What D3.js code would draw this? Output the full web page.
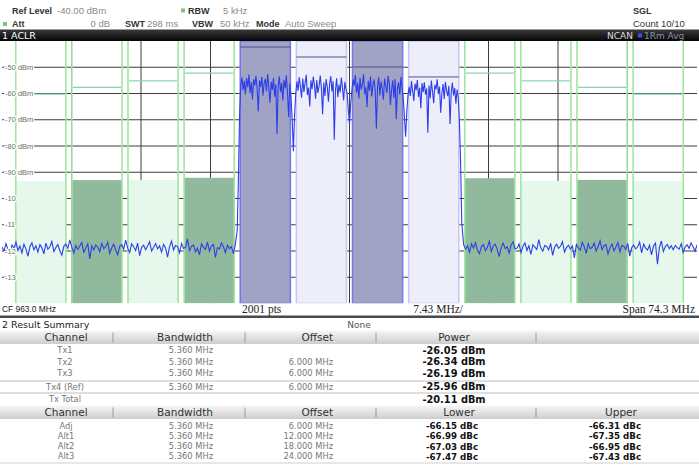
<!DOCTYPE html>
<html>
<head>
<meta charset="utf-8">
<script src="https://cdn.jsdelivr.net/npm/d3@7"></script>
<style>
  body { margin: 0; background: #fff; }
  svg { display: block; }
</style>
</head>
<body>
<script>
// instrument settings
const centerMHz = 963.0;
const spanMHz = 74.3;
const refLevel = -40;
const bottomLevel = -140;
const chBandwidth = 5.36;
const sweepPoints = 2001;

// transmit channels
const txNames = ["Tx1", "Tx2", "Tx3", "Tx4 (Ref)"];
const txOffsets = [-9, -3, 3, 9];
const txPower = [-26.05, -26.34, -26.19, -25.96];
const txMarks = [-42.3, -46.1, -49.9, -53.7];
const txTableOffsets = ["", "6.000 MHz", "6.000 MHz", "6.000 MHz"];
const txTotal = -20.11;

// adjacent / alternate channels
const adjNames = ["Adj", "Alt1", "Alt2", "Alt3"];
const adjSpacing = [6, 12, 18, 24];
const adjTableOffsets = ["6.000 MHz", "12.000 MHz", "18.000 MHz", "24.000 MHz"];
const lowerDbc = [-66.15, -66.99, -67.03, -67.47];
const upperDbc = [-66.31, -67.35, -66.95, -67.43];
const adjLimits = [-52.2, -55.2, -57.7, -60.2];

// level axis
const levelTicks = [-50, -60, -70, -80, -90, -100, -110, -120, -130];
const levelLabels = ["-50 dBm", "-60 dBm", "-70 dBm", "-80 dBm", "-90 dBm", "-10", "-11", "-12", "-13"];

// trace (dBm): lower noise floor, transmit block, upper noise floor
const traceLow = [
  -118.5,-120.1,-117.2,-119.4,-121.3,-117.8,-118.9,-116.6,-119.8,-118.1,
  -120.7,-117.4,-119.2,-122.0,-118.3,-116.9,-119.5,-118.0,-120.4,-117.6,
  -118.8,-121.1,-117.0,-119.3,-118.4,-116.4,-120.2,-118.7,-117.5,-119.9,
  -121.6,-118.2,-117.3,-119.0,-115.8,-118.6,-120.8,-117.9,-119.4,-118.1,
  -116.8,-120.5,-118.9,-117.2,-123.0,-118.0,-119.6,-117.7,-118.5,-120.3,
  -117.1,-119.1,-118.3,-116.7,-120.9,-118.8,-117.4,-119.7,-121.4,-118.2,
  -117.6,-119.3,-115.9,-118.9,-120.6,-117.3,-118.4,-119.8,-117.0,-121.8,
  -118.6,-117.8,-119.5,-118.1,-116.5,-120.0,-118.7,-117.2,-119.2,-118.0,
  -120.4,-117.5,-118.8,-122.3,-118.4,-116.2,-119.6,-117.9,-118.3,-120.7,
  -117.1,-119.0,-118.6,-115.4,-119.9,-118.2,-117.7,-120.3,-118.9,-121.5,
  -117.3,-118.5,-119.4,-116.6,-120.1,-118.0,-117.5,-122.4,-118.7,-119.2,
  -116.9,-118.4,-120.6,-117.8,-119.1,-118.3,-121.0,-117.4
];
const traceTx = [
  -112.0,-92.0,-68.0,
  -56.8,-53.9,-58.7,-55.2,-60.4,-54.1,-57.6,-52.8,-59.9,-55.7,
  -62.3,-54.6,-56.9,-53.3,-58.2,-66.8,-55.1,-57.4,-53.7,-60.8,
  -56.0,-54.4,-59.1,-52.6,-57.9,-63.5,-55.5,-58.6,-54.0,-61.2,
  -56.5,-75.4,-57.2,-53.5,-59.5,-55.9,-62.7,-54.8,-58.0,-53.1,
  -60.1,-68.9,-56.2,
  -61.5,-70.2,-82.0,-68.5,-60.3,
  -55.4,-58.9,-53.8,-57.3,-61.6,-54.3,-59.4,-56.1,-52.9,-60.6,
  -57.7,-64.9,-55.0,-58.4,-53.6,-56.7,-62.0,-54.9,-59.8,-57.0,
  -53.2,-58.1,-67.9,-55.8,-60.9,-54.5,-57.5,-63.1,-56.3,-53.4,
  -59.2,-55.3,-77.6,-58.8,-54.2,-61.4,-56.6,-59.6,-53.9,-57.8,
  -62.6,-55.6,-58.3,
  -60.0,-66.5,-71.8,-64.0,-59.1,
  -54.7,-57.1,-53.0,-59.7,-55.9,-61.9,-54.0,-58.5,-56.4,-52.7,
  -60.3,-57.6,-65.2,-55.2,-58.9,-53.5,-61.1,-56.8,-54.6,-59.0,
  -73.4,-57.3,-53.8,-60.7,-55.5,-58.2,-62.4,-54.3,-57.0,-59.8,
  -53.3,-56.1,-64.4,-58.6,-55.0,-61.7,-54.5,-69.8,-57.9,-55.7,
  -60.5,-53.6,-58.0,
  -61.9,-69.4,-76.5,-67.1,-60.8,
  -57.5,-60.9,-55.3,-59.1,-62.8,-56.2,-58.7,-54.9,-61.3,-57.8,
  -65.6,-56.0,-59.5,-55.7,-60.4,-58.1,-74.9,-57.0,-61.8,-55.1,
  -59.3,-63.7,-56.7,-58.4,-54.6,-60.2,-57.4,-67.3,-59.9,-56.4,
  -62.1,-55.6,-58.8,-61.0,-57.1,-71.6,-59.6,-55.8,-60.7,-57.9,
  -63.9,-58.5,-61.5,
  -70.5,-86.0,-109.0
];
const traceHigh = [
  -117.6,-119.3,-118.0,-120.5,-117.2,-118.9,-116.8,-119.7,-121.0,-118.3,
  -117.5,-119.9,-118.6,-116.3,-120.2,-118.1,-117.4,-119.5,-122.1,-118.7,
  -117.0,-119.1,-118.4,-120.8,-117.7,-116.5,-119.2,-118.9,-117.3,-120.6,
  -118.2,-116.9,-119.8,-118.0,-121.3,-117.6,-118.5,-119.4,-115.7,-118.8,
  -120.1,-117.9,-118.3,-119.6,-117.1,-121.7,-118.6,-117.4,-119.0,-118.2,
  -116.4,-120.4,-118.7,-117.8,-119.3,-118.1,-122.6,-117.5,-118.9,-119.7,
  -116.7,-118.4,-120.9,-117.2,-119.1,-118.6,-117.0,-120.0,-118.3,-116.1,
  -119.5,-118.0,-117.6,-121.2,-118.8,-117.3,-119.9,-118.5,-116.8,-120.3,
  -117.9,-118.2,-119.4,-117.1,-122.0,-118.7,-117.7,-119.2,-118.4,-116.6,
  -120.7,-117.4,-118.9,-119.6,-117.8,-121.5,-118.1,-117.0,-125.0,-118.6,
  -116.2,-120.2,-118.3,-117.5,-119.1,-118.0,-119.5,-117.9,-118.7,-119.3,
  -117.2,-120.6,-118.5,-117.6,-119.0,-116.9,-118.4,-120.1,-117.7
];
// frequency ranges (MHz from centre) covered by each trace segment
const traceSegments = [
  { from: -37.15, to: -12.2, values: traceLow },
  { from: -12.0, to: 12.0, values: traceTx },
  { from: 12.2, to: 37.15, values: traceHigh }
];

const W = 699, H = 469;
const plot = { left: 2, right: 697, top: 41, bottom: 303.5 };
const sans = '"DejaVu Sans", Verdana, sans-serif';
const arial = '"Liberation Sans", Arial, sans-serif';

const x = d3.scaleLinear().domain([-spanMHz / 2, spanMHz / 2]).range([plot.left, plot.right]);
const y = d3.scaleLinear().domain([bottomLevel, refLevel]).range([plot.bottom, plot.top]);
const chWidth = x(chBandwidth) - x(0);

const svg = d3.select("body").append("svg")
  .attr("width", W).attr("height", H)
  .style("font-family", sans);

const defs = svg.append("defs");
defs.append("clipPath").attr("id", "plotClip").append("rect")
  .attr("x", plot.left).attr("y", plot.top)
  .attr("width", plot.right - plot.left).attr("height", plot.bottom - plot.top);
const hdrGrad = defs.append("linearGradient").attr("id", "hdrGrad").attr("x1", 0).attr("x2", 0).attr("y1", 0).attr("y2", 1);
hdrGrad.append("stop").attr("offset", "0%").attr("stop-color", "#f7f7f7");
hdrGrad.append("stop").attr("offset", "100%").attr("stop-color", "#cdcdcd");
const barGrad = defs.append("linearGradient").attr("id", "barGrad").attr("x1", 0).attr("x2", 0).attr("y1", 0).attr("y2", 1);
barGrad.append("stop").attr("offset", "0%").attr("stop-color", "#3a3a3a");
barGrad.append("stop").attr("offset", "100%").attr("stop-color", "#050505");

// ---- instrument header
const hdr = svg.append("g").style("font-family", arial);
function hText(tx, ty, s, opts = {}) {
  return hdr.append("text").attr("x", tx).attr("y", ty).attr("dy", "0.35em")
    .attr("text-anchor", opts.anchor || "start")
    .attr("fill", opts.bold ? "#333" : (opts.color || "#8a8a8a"))
    .attr("font-weight", opts.bold ? "bold" : "normal")
    .style("font-size", opts.bold ? "9px" : "9.5px")
    .text(s);
}
hText(12, 10.5, "Ref Level", { bold: true });
hText(57, 10.5, "-40.00 dBm");
hdr.append("rect").attr("x", 181).attr("y", 8.5).attr("width", 4).attr("height", 4).attr("fill", "#7bc47b");
hText(188, 10.5, "RBW", { bold: true });
hText(223, 10.5, "5 kHz");
hText(633, 10.5, "SGL", { bold: true });
hdr.append("rect").attr("x", 3).attr("y", 22).attr("width", 4).attr("height", 4).attr("fill", "#7bc47b");
hText(12, 24, "Att", { bold: true });
hText(110, 24, "0 dB", { anchor: "end" });
hText(125, 24, "SWT", { bold: true });
hText(147, 24, "298 ms");
hText(192, 24, "VBW", { bold: true });
hText(220, 24, "50 kHz");
hText(256, 24, "Mode", { bold: true });
hText(285, 24, "Auto Sweep");
hText(633, 24, "Count 10/10", { color: "#333" });

svg.append("rect").attr("x", 0).attr("y", 29.5).attr("width", W).attr("height", 11.5).attr("fill", "url(#barGrad)");
svg.append("text").attr("x", 2).attr("y", 35.5).attr("dy", "0.35em").attr("fill", "#fff")
  .style("font-size", "9.5px").text("1 ACLR");
svg.append("text").attr("x", 633).attr("y", 35.5).attr("dy", "0.35em").attr("text-anchor", "end")
  .attr("fill", "#ddd").style("font-size", "9px").text("NCAN");
svg.append("rect").attr("x", 638).attr("y", 33.5).attr("width", 4).attr("height", 4).attr("fill", "#3b4cff");
svg.append("text").attr("x", 644).attr("y", 35.5).attr("dy", "0.35em")
  .attr("fill", "#8a8fb0").style("font-size", "9px").text("1Rm Avg");

// ---- plot area
const pg = svg.append("g").attr("clip-path", "url(#plotClip)");

pg.selectAll(".hgrid").data(levelTicks).join("line").attr("class", "hgrid")
  .attr("x1", plot.left).attr("x2", plot.right)
  .attr("y1", d => y(d)).attr("y2", d => y(d))
  .attr("stroke", "#3c3c3c").attr("stroke-width", 1);

const xDivs = d3.range(1, 10).map(i => -spanMHz / 2 + i * spanMHz / 10);
pg.selectAll(".vgrid").data(xDivs).join("line").attr("class", "vgrid")
  .attr("x1", d => x(d)).attr("x2", d => x(d))
  .attr("y1", plot.top).attr("y2", plot.bottom)
  .attr("stroke", "#3c3c3c").attr("stroke-width", 1);

// adjacent channel bars
const refPower = txPower[3];
const adjBars = [];
adjNames.forEach((n, i) => {
  adjBars.push({ i, center: txOffsets[0] - adjSpacing[i], level: refPower + lowerDbc[i], limit: adjLimits[i] });
  adjBars.push({ i, center: txOffsets[3] + adjSpacing[i], level: refPower + upperDbc[i], limit: adjLimits[i] });
});

pg.selectAll(".adj").data(adjBars).join("rect").attr("class", "adj")
  .attr("x", d => x(d.center - chBandwidth / 2))
  .attr("width", chWidth)
  .attr("y", d => y(d.level))
  .attr("height", d => plot.bottom - y(d.level))
  .attr("fill", d => d.i % 2 === 0 ? "#90b99d" : "#e6f7ec");

const adjEdges = adjBars.flatMap(d => [d.center - chBandwidth / 2, d.center + chBandwidth / 2]);
pg.selectAll(".adjEdge").data(adjEdges).join("line").attr("class", "adjEdge")
  .attr("x1", d => x(d)).attr("x2", d => x(d))
  .attr("y1", plot.top).attr("y2", plot.bottom)
  .attr("stroke", "#a0e6a0").attr("stroke-width", 1.6);

pg.selectAll(".adjLimit").data(adjBars).join("line").attr("class", "adjLimit")
  .attr("x1", d => x(d.center - chBandwidth / 2) + 1).attr("x2", d => x(d.center + chBandwidth / 2) - 1)
  .attr("y1", d => y(d.limit)).attr("y2", d => y(d.limit))
  .attr("stroke", "#86d4b4").attr("stroke-width", 1.2);

// transmit channel bars
const txBars = txNames.map((n, i) => ({ i, center: txOffsets[i], level: Math.min(txPower[i], refLevel), mark: txMarks[i] }));
pg.selectAll(".tx").data(txBars).join("rect").attr("class", "tx")
  .attr("x", d => x(d.center - chBandwidth / 2))
  .attr("width", chWidth)
  .attr("y", d => y(d.level))
  .attr("height", d => plot.bottom - y(d.level))
  .attr("fill", d => d.i % 2 === 0 ? "#a1a3c5" : "#edeef9")
  .attr("stroke", d => d.i % 2 === 0 ? "#7377ea" : "#c4c7f4")
  .attr("stroke-width", 1.5);

pg.selectAll(".txMark").data(txBars).join("line").attr("class", "txMark")
  .attr("x1", d => x(d.center - chBandwidth / 2)).attr("x2", d => x(d.center + chBandwidth / 2))
  .attr("y1", d => y(d.mark)).attr("y2", d => y(d.mark))
  .attr("stroke", "#4d5290").attr("stroke-width", 1);

// trace
const tracePoints = traceSegments.flatMap(s => s.values.map((v, i) => ({
  f: s.from + i * (s.to - s.from) / (s.values.length - 1),
  v
})));
const line = d3.line().x(d => x(d.f)).y(d => y(d.v));
pg.append("path").datum(tracePoints)
  .attr("d", line)
  .attr("fill", "none")
  .attr("stroke", "#2d3ee8")
  .attr("stroke-width", 1.1);

// level labels
svg.append("g").selectAll("text").data(levelTicks).join("text")
  .attr("x", 5).attr("y", d => y(d)).attr("dy", "0.35em")
  .attr("fill", "#6f6f6f").style("font-family", arial).style("font-size", "7.5px")
  .attr("stroke", "#fff").attr("stroke-width", 2.5).attr("paint-order", "stroke")
  .text((d, i) => levelLabels[i]);

// frequency footer
const foot = svg.append("g").style("font-family", '"Liberation Serif", "Times New Roman", serif').style("font-size", "11.5px").attr("fill", "#222");
foot.append("rect").attr("x", 0).attr("y", plot.bottom).attr("width", W).attr("height", 12).attr("fill", "#fff");
foot.append("text").attr("x", 2).attr("y", 309).attr("dy", "0.35em")
  .style("font-family", arial).style("font-size", "8.4px")
  .text("CF " + centerMHz.toFixed(1) + " MHz");
foot.append("text").attr("x", 242).attr("y", 309).attr("dy", "0.35em").text(sweepPoints + " pts");
foot.append("text").attr("x", 463).attr("y", 309).attr("dy", "0.35em").attr("text-anchor", "end").text((spanMHz / 10).toFixed(2) + " MHz/");
foot.append("text").attr("x", 695).attr("y", 309).attr("dy", "0.35em").attr("text-anchor", "end").text("Span " + spanMHz.toFixed(1) + " MHz");
svg.append("rect").attr("x", 0).attr("y", 315.5).attr("width", W).attr("height", 2.5).attr("fill", "#4a4a4a");

// ---- result summary table
const tbl = svg.append("g").style("font-size", "8.3px");
tbl.append("text").attr("x", 2).attr("y", 325).attr("dy", "0.35em").attr("fill", "#222").style("font-size", "9.5px").text("2 Result Summary");
tbl.append("text").attr("x", 359).attr("y", 324.5).attr("dy", "0.35em").attr("text-anchor", "middle").attr("fill", "#555").style("font-size", "9px").text("None");

const dividers = [113, 245, 376, 536];
function headerBand(top, labels) {
  tbl.append("rect").attr("x", 0).attr("y", top).attr("width", W).attr("height", 13.5).attr("fill", "url(#hdrGrad)");
  tbl.selectAll(null).data(dividers).join("line")
    .attr("x1", d => d).attr("x2", d => d).attr("y1", top + 2).attr("y2", top + 12)
    .attr("stroke", "#9a9a9a");
  tbl.selectAll(null).data(labels).join("text")
    .attr("x", d => d.x).attr("y", top + 7).attr("dy", "0.35em")
    .attr("text-anchor", d => d.anchor).attr("fill", "#333").style("font-size", "10.5px")
    .text(d => d.t);
}
headerBand(330.5, [
  { t: "Channel", x: 66, anchor: "middle" },
  { t: "Bandwidth", x: 213, anchor: "end" },
  { t: "Offset", x: 333, anchor: "end" },
  { t: "Power", x: 454, anchor: "middle" }
]);
headerBand(405.5, [
  { t: "Channel", x: 66, anchor: "middle" },
  { t: "Bandwidth", x: 213, anchor: "end" },
  { t: "Offset", x: 333, anchor: "end" },
  { t: "Lower", x: 459, anchor: "middle" },
  { t: "Upper", x: 621, anchor: "middle" }
]);

[381, 393].forEach(ly => tbl.append("line").attr("x1", 0).attr("x2", W).attr("y1", ly).attr("y2", ly).attr("stroke", "#bdbdbd"));

const txRowY = [350.5, 362, 373.3, 387, 399.3];
const txRows = txNames.map((n, i) => ({ name: n, bw: chBandwidth.toFixed(3) + " MHz", off: txTableOffsets[i], pw: txPower[i].toFixed(2) + " dBm" }));
txRows.push({ name: "Tx Total", bw: "", off: "", pw: txTotal.toFixed(2) + " dBm" });

const txG = tbl.selectAll(".txRow").data(txRows).join("g").attr("class", "txRow")
  .attr("transform", (d, i) => `translate(0,${txRowY[i]})`);
txG.append("text").attr("x", 65).attr("dy", "0.35em").attr("text-anchor", "middle").attr("fill", "#777").text(d => d.name);
txG.append("text").attr("x", 213).attr("dy", "0.35em").attr("text-anchor", "end").attr("fill", "#777").text(d => d.bw);
txG.append("text").attr("x", 333).attr("dy", "0.35em").attr("text-anchor", "end").attr("fill", "#777").text(d => d.off);
txG.append("text").attr("x", 454).attr("dy", "0.35em").attr("text-anchor", "middle").attr("fill", "#111")
  .attr("font-weight", "bold").style("font-size", "9.8px").text(d => d.pw);

const adjRowY = [426, 436.3, 446.5, 456.5];
const adjRows = adjNames.map((n, i) => ({ name: n, bw: chBandwidth.toFixed(3) + " MHz", off: adjTableOffsets[i], lo: lowerDbc[i].toFixed(2) + " dBc", up: upperDbc[i].toFixed(2) + " dBc" }));
const adjG = tbl.selectAll(".adjRow").data(adjRows).join("g").attr("class", "adjRow")
  .attr("transform", (d, i) => `translate(0,${adjRowY[i]})`);
adjG.append("text").attr("x", 66).attr("dy", "0.35em").attr("text-anchor", "middle").attr("fill", "#777").text(d => d.name);
adjG.append("text").attr("x", 213).attr("dy", "0.35em").attr("text-anchor", "end").attr("fill", "#777").text(d => d.bw);
adjG.append("text").attr("x", 333).attr("dy", "0.35em").attr("text-anchor", "end").attr("fill", "#777").text(d => d.off);
adjG.append("text").attr("x", 452).attr("dy", "0.35em").attr("text-anchor", "middle").attr("fill", "#111")
  .attr("font-weight", "bold").style("font-size", "8.7px").text(d => d.lo);
adjG.append("text").attr("x", 615).attr("dy", "0.35em").attr("text-anchor", "middle").attr("fill", "#111")
  .attr("font-weight", "bold").style("font-size", "8.7px").text(d => d.up);

tbl.append("line").attr("x1", 0).attr("x2", W).attr("y1", 463).attr("y2", 463).attr("stroke", "#cfcfcf");
</script>
</body>
</html>
